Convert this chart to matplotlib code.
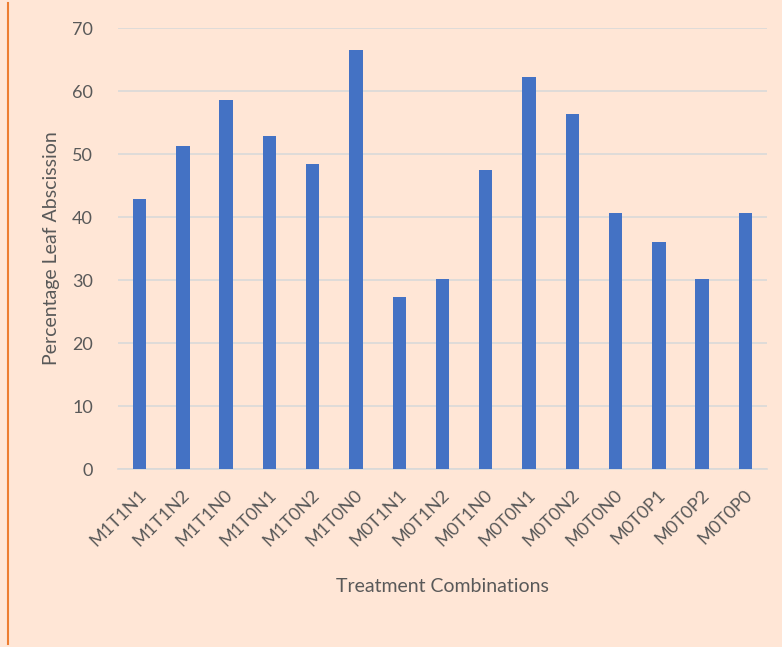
import matplotlib
matplotlib.use("Agg")
from matplotlib import pyplot as plt
from matplotlib.lines import Line2D
import matplotlib.transforms as mtransforms

# values
treatments = ["M1T1N1", "M1T1N2", "M1T1N0", "M1T0N1", "M1T0N2", "M1T0N0",
              "M0T1N1", "M0T1N2", "M0T1N0", "M0T0N1", "M0T0N2", "M0T0N0",
              "M0T0P1", "M0T0P2", "M0T0P0"]
leaf_abscission = [42.9, 51.2, 58.6, 52.9, 48.4, 66.5,
                   27.3, 30.1, 47.4, 62.3, 56.3, 40.7,
                   36.0, 30.1, 40.7]
y_ticks = [0, 10, 20, 30, 40, 50, 60, 70]

bg = "#FFE6D6"
txt = "#595959"
plt.rcParams['font.family'] = ['Lato', 'DejaVu Sans']

f = plt.figure(figsize=(7.82, 6.47), dpi=100, facecolor=bg)
ax1 = f.add_axes([0.1509, 0.2751, 0.8299, 0.6816], facecolor=bg)

pos = list(range(len(treatments)))
ax1.bar(pos, leaf_abscission, width=0.31, color="#4472C4", zorder=3)

ax1.set_xlim(-0.5, len(treatments) - 0.5)
ax1.set_ylim(0, 70)
ax1.set_yticks(y_ticks)
ax1.yaxis.grid(True, color="#D9D9D9", linewidth=1.2, zorder=0)
for s in ["top", "right", "left"]:
    ax1.spines[s].set_visible(False)
ax1.spines["bottom"].set_color("#D9D9D9")
ax1.spines["bottom"].set_linewidth(1.2)
ax1.tick_params(axis="both", length=0, colors=txt, labelsize=13)
ax1.tick_params(axis="y", pad=18)

ax1.set_xticks(pos)
ax1.set_xticklabels(treatments, rotation=45, ha="right", va="center",
                    rotation_mode="anchor")
ax1.tick_params(axis="x", pad=17)
shift = mtransforms.ScaledTranslation(3 / 72, 0, f.dpi_scale_trans)
for lab in ax1.get_xticklabels():
    lab.set_transform(lab.get_transform() + shift)

ax1.set_ylabel("Percentage Leaf Abscission", fontsize=14, color=txt, labelpad=9)
ax1.set_xlabel("Treatment Combinations", fontsize=14, color=txt, labelpad=21)

# orange border on the left
f.add_artist(Line2D([8 / 782, 8 / 782], [0.005, 0.995], color="#ED7D31",
                    linewidth=1.5, transform=f.transFigure))

f.savefig("out.png", dpi=100, facecolor=bg)
